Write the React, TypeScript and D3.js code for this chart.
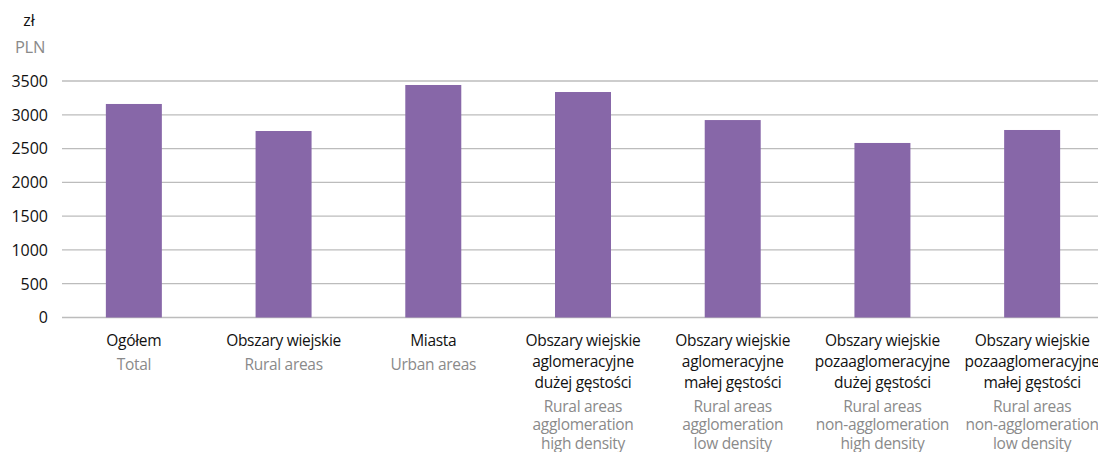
import React from "react";
import * as d3 from "d3";

const categoriesPL: string[][] = [
  ["Ogółem"],
  ["Obszary wiejskie"],
  ["Miasta"],
  ["Obszary wiejskie", "aglomeracyjne", "dużej gęstości"],
  ["Obszary wiejskie", "aglomeracyjne", "małej gęstości"],
  ["Obszary wiejskie", "pozaaglomeracyjne", "dużej gęstości"],
  ["Obszary wiejskie", "pozaaglomeracyjne", "małej gęstości"],
];
const categoriesEN: string[][] = [
  ["Total"],
  ["Rural areas"],
  ["Urban areas"],
  ["Rural areas", "agglomeration", "high density"],
  ["Rural areas", "agglomeration", "low density"],
  ["Rural areas", "non-agglomeration", "high density"],
  ["Rural areas", "non-agglomeration", "low density"],
];
const values: number[] = [3160, 2760, 3441, 3337, 2922, 2583, 2775];
const yTicks: number[] = [0, 500, 1000, 1500, 2000, 2500, 3000, 3500];
const unitPL = "zł";
const unitEN = "PLN";

const W = 1098;
const H = 452;
const FONT = "'Open Sans', sans-serif";

export default function App() {
  const ids = categoriesPL.map((_, i) => String(i));
  const x = d3
    .scaleBand<string>()
    .domain(ids)
    .range([59, 1107])
    .paddingInner(0.626)
    .paddingOuter(0.313);
  const y = d3.scaleLinear().domain([0, 3500]).range([317.5, 81]);

  return (
    <svg
      width={W}
      height={H}
      style={{ position: "absolute", left: 0, top: 0, background: "#fff" }}
      fontFamily={FONT}
    >
      <text x={29} y={26} textAnchor="middle" fontSize={16} fill="#111">
        {unitPL}
      </text>
      <text x={30} y={53} textAnchor="middle" fontSize={16.5} fill="#8a8a8a" letterSpacing={-0.3}>
        {unitEN}
      </text>
      {yTicks.map((t) => (
        <g key={t}>
          <line
            x1={62}
            x2={W}
            y1={y(t)}
            y2={y(t)}
            stroke="#bcbcbc"
            strokeWidth={1.3}
          />
          <text
            x={48}
            y={y(t)}
            dy="0.37em"
            textAnchor="end"
            fontSize={16}
            fill="#111"
          >
            {t}
          </text>
        </g>
      ))}
      {values.map((v, i) => (
        <rect
          key={i}
          x={x(String(i))!}
          y={y(v)}
          width={x.bandwidth()}
          height={y(0) - y(v)}
          fill="#8767a8"
        />
      ))}
      {categoriesPL.map((lines, i) => {
        const cx = x(String(i))! + x.bandwidth() / 2;
        const en = categoriesEN[i];
        const enStart = 346 + (lines.length - 1) * 21 + 23.5;
        return (
          <g key={i}>
            {lines.map((l, j) => (
              <text
                key={"p" + j}
                x={cx}
                y={346 + j * 21}
                textAnchor="middle"
                fontSize={15.5}
                letterSpacing={-0.3}
                fill="#111"
              >
                {l}
              </text>
            ))}
            {en.map((l, j) => (
              <text
                key={"e" + j}
                x={cx}
                y={enStart + j * 18.7}
                textAnchor="middle"
                fontSize={15.5}
                letterSpacing={-0.3}
                fill="#8a8a8a"
              >
                {l}
              </text>
            ))}
          </g>
        );
      })}
    </svg>
  );
}
